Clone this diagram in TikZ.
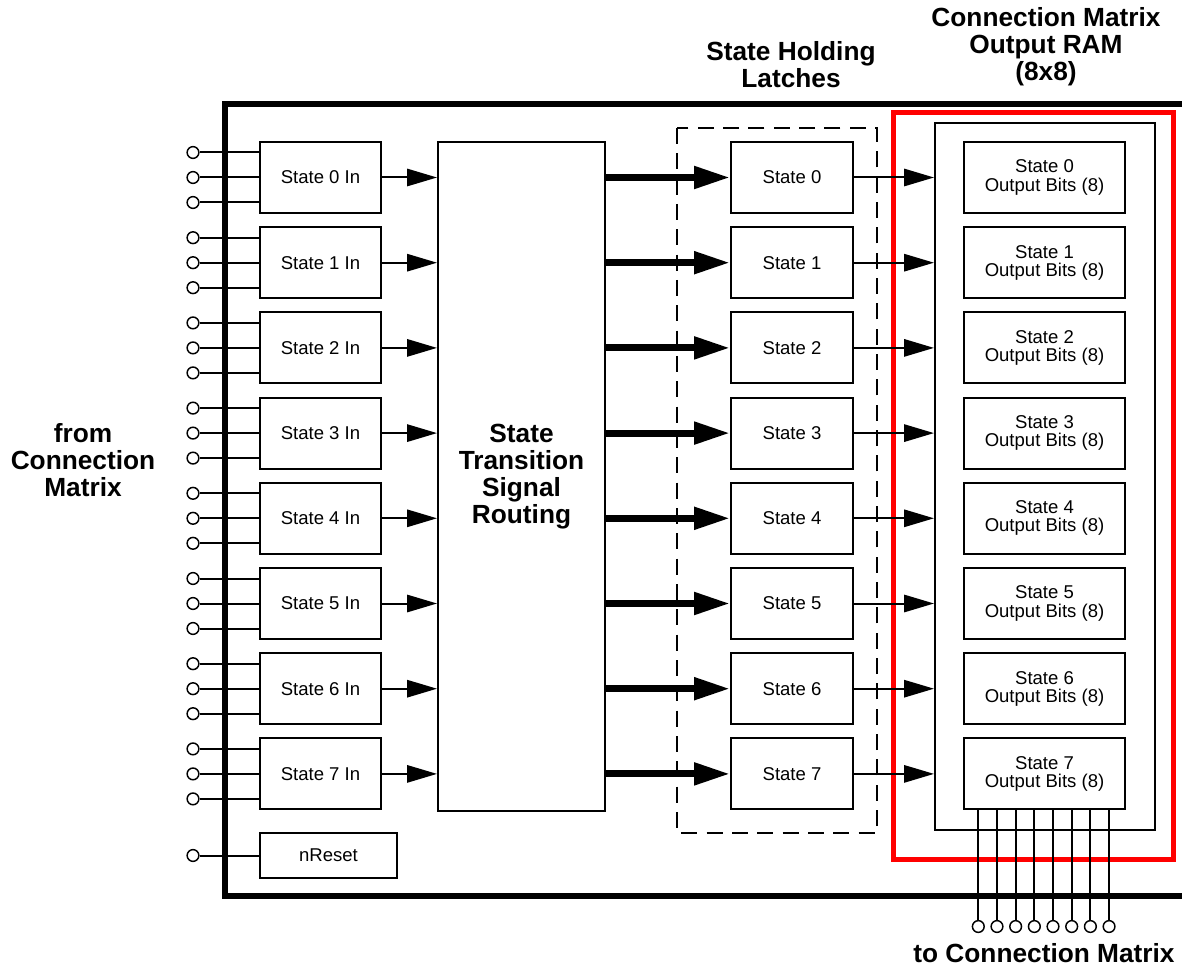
\documentclass[tikz,border=0pt]{standalone}
\usepackage{fontspec}
\setmainfont{Liberation Sans}
\usepackage{tikz}
\usetikzlibrary{arrows.meta}
\definecolor{ramRed}{RGB}{255, 0, 0}

\tikzset{
  blk/.style={draw, line width=1.5pt, minimum height=53.25pt, inner sep=0pt,
    align=center, font=\fontsize{13.9}{13.6}\selectfont},
  pin/.style={circle, draw, line width=1.1pt, fill=white, minimum size=8.8pt, inner sep=0pt},
  title/.style={align=center, font=\bfseries\fontsize{19.7}{20.2}\selectfont},
  wire/.style={line width=1.5pt},
  sig/.style={line width=1.5pt, -{Triangle[length=22.5pt, width=13pt]}},
  bus/.style={line width=5.25pt, -{Triangle[length=27pt, width=16pt]}}
}

\begin{document}
\begin{tikzpicture}[x=0.75pt, y=-0.75pt]
  \useasboundingbox (0,0) rectangle (1182,966);

  % board outline (runs off the right edge)
  \draw[line width=4.5pt] (1195,104) -- (225,104) -- (225,896) -- (1195,896);

  % routing block
  \node[blk, minimum width=125.25pt, minimum height=501.75pt,
    font=\bfseries\fontsize{19.7}{20.2}\selectfont] (route) at (521.5,476.5)
    {State\\Transition\\Signal\\Routing};

  % latch frame and RAM
  \draw[line width=1.5pt, dash pattern=on 12pt off 7pt] (677,128) rectangle (877,833);
  \draw[ramRed, line width=3.75pt] (893,113) rectangle (1173,859);
  \node[draw, line width=1.5pt, minimum width=165pt, minimum height=530.25pt] (ram) at (1045,476.5) {};

  % one row per state
  \foreach \i in {0,...,7} {
    \pgfmathsetmacro\yy{177.5+85.2*\i}
    \node[blk, minimum width=90.75pt] (in\i) at (320.5,\yy) {State \i\ In};
    \node[blk, minimum width=91.5pt] (lat\i) at (792,\yy) {State \i};
    \node[blk, minimum width=120.75pt] (out\i) at (1044.5,\yy) {State \i\\Output Bits (8)};
    \foreach \d/\k in {-25/a, 0/b, 25/c} {
      \node[pin] (p\i\k) at (193,\yy+\d) {};
      \draw[wire] (p\i\k.east) -- (p\i\k -| in\i.west);
    }
    \draw[sig] (in\i.east) -- (in\i -| route.west);
    \draw[bus] (route.east |- lat\i) -- (lat\i.west);
    \draw[sig] (lat\i.east) -- (lat\i -| ram.west);
  }

  % reset input
  \node[blk, minimum width=102.75pt, minimum height=33.75pt] (rst) at (328.5,855.5) {nReset};
  \node[pin] (prst) at (193,855.5) {};
  \draw[wire] (prst.east) -- (rst.west);

  % output bits
  \foreach \k in {0,...,7} {
    \node[pin] (q\k) at (978.3+18.68*\k,926.5) {};
    \draw[wire] (q\k.north) -- (q\k |- out7.south);
  }

  % labels
  \node[title] (ramlbl) at (1046,47) {Connection Matrix\\Output RAM\\(8x8)};
  \node[title] (latlbl) at (791,65) {State Holding\\Latches};
  \node[title] (fromlbl) at (83,460) {from\\Connection\\Matrix};
  \node[title] (tolbl) at (1044,953) {to Connection Matrix};
\end{tikzpicture}
\end{document}
